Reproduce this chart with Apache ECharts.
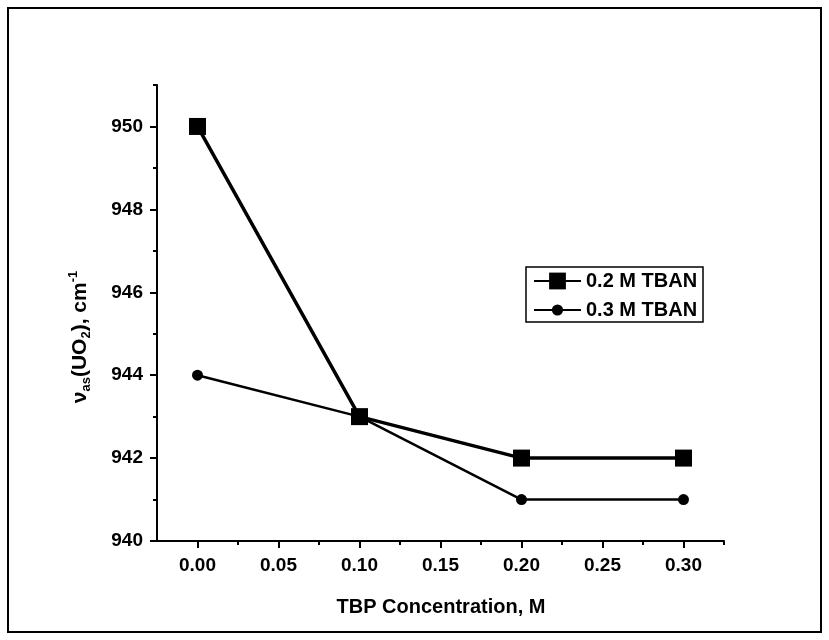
<!DOCTYPE html>
<html>
<head>
<meta charset="utf-8">
<script src="https://cdn.jsdelivr.net/npm/echarts@6/dist/echarts.min.js"></script>
<style>html,body{margin:0;padding:0;background:#fff;}#c{width:829px;height:640px;}</style>
</head>
<body>
<div id="c"></div>
<script>
// ---- data ----
var tbpConc = [0.00, 0.10, 0.20, 0.30];
var series02 = [950, 943, 942, 942];
var series03 = [944, 943, 941, 941];
var seriesNames = ['0.2 M TBAN', '0.3 M TBAN'];
var xTickValues = [0.00, 0.05, 0.10, 0.15, 0.20, 0.25, 0.30];
var xMinorValues = [0.025, 0.075, 0.125, 0.175, 0.225, 0.275, 0.325];
var yTickValues = [940, 942, 944, 946, 948, 950];
var yMinorValues = [941, 943, 945, 947, 949, 951];
var xTitle = 'TBP Concentration, M';

var FONT = 'Arial, "Liberation Sans", sans-serif';
var chart = echarts.init(document.getElementById('c'), null, {renderer: 'canvas'});

function pairs(xs, ys) { return xs.map(function (x, i) { return [x, ys[i]]; }); }

var grid = {left: 157, top: 85, right: 105, bottom: 99, containLabel: false};
var xMin = -0.025, xMax = 0.325, yMin = 940, yMax = 951;

var option = {
  animation: false,
  backgroundColor: '#fff',
  grid: grid,
  xAxis: [{
    type: 'value', min: xMin, max: xMax,
    axisLine: {show: true, onZero: false, lineStyle: {color: '#000', width: 2}},
    axisTick: {show: true, inside: false, length: 7, lineStyle: {color: '#000', width: 2}, customValues: xTickValues},
    axisLabel: {show: true, margin: 15, color: '#000', fontFamily: FONT, fontWeight: 'bold', fontSize: 19,
      customValues: xTickValues, formatter: function (v) { return v.toFixed(2); }},
    splitLine: {show: false}
  }, {
    type: 'value', min: xMin, max: xMax, position: 'bottom',
    axisLine: {show: false, onZero: false},
    axisTick: {show: true, inside: false, length: 4, lineStyle: {color: '#000', width: 2}, customValues: xMinorValues},
    axisLabel: {show: false},
    splitLine: {show: false}
  }],
  yAxis: [{
    type: 'value', min: yMin, max: yMax,
    axisLine: {show: true, onZero: false, lineStyle: {color: '#000', width: 2}},
    axisTick: {show: true, inside: false, length: 7, lineStyle: {color: '#000', width: 2}, customValues: yTickValues},
    axisLabel: {show: true, margin: 14, color: '#000', fontFamily: FONT, fontWeight: 'bold', fontSize: 19,
      customValues: yTickValues},
    splitLine: {show: false}
  }, {
    type: 'value', min: yMin, max: yMax, position: 'left',
    axisLine: {show: false, onZero: false},
    axisTick: {show: true, inside: false, length: 4, lineStyle: {color: '#000', width: 2}, customValues: yMinorValues},
    axisLabel: {show: false},
    splitLine: {show: false}
  }],
  legend: [{
    data: [seriesNames[0]], left: 533, top: 271, padding: 0, orient: 'vertical',
    itemWidth: 47, itemHeight: 21, itemGap: 0,
    textStyle: {color: '#000', fontFamily: FONT, fontWeight: 'bold', fontSize: 20}
  }, {
    data: [seriesNames[1]], left: 533, top: 300, padding: 0, orient: 'vertical',
    itemWidth: 47, itemHeight: 14, itemGap: 0,
    textStyle: {color: '#000', fontFamily: FONT, fontWeight: 'bold', fontSize: 20}
  }],
  series: [{
    name: seriesNames[1], type: 'line', xAxisIndex: 0, yAxisIndex: 0,
    data: pairs(tbpConc, series03),
    symbol: 'circle', symbolSize: 11,
    lineStyle: {color: '#000', width: 2.5},
    itemStyle: {color: '#000'},
    z: 2
  }, {
    name: seriesNames[0], type: 'line', xAxisIndex: 0, yAxisIndex: 0,
    data: pairs(tbpConc, series02),
    symbol: 'rect', symbolSize: 17,
    lineStyle: {color: '#000', width: 3.5},
    itemStyle: {color: '#000'},
    z: 3
  }],
  graphic: [{
    type: 'rect', silent: true,
    shape: {x: 8, y: 8, width: 813, height: 624},
    style: {fill: null, stroke: '#000', lineWidth: 2}
  }, {
    type: 'rect', silent: true,
    shape: {x: 526, y: 267, width: 177, height: 55},
    style: {fill: null, stroke: '#000', lineWidth: 1.5}
  }, {
    type: 'text', silent: true, x: 441, y: 607,
    style: {text: xTitle, fill: '#000', font: 'bold 20px ' + FONT, align: 'center', verticalAlign: 'middle'}
  }, {
    type: 'text', silent: true, x: 80, y: 337, rotation: Math.PI / 2,
    style: {
      text: '{m|ν}{sub|as}{m|(UO}{sub|2}{m|), cm}{sup|-1}',
      align: 'center', verticalAlign: 'middle', fill: '#000',
      rich: {
        m: {font: 'bold 21px ' + FONT, fill: '#000', lineHeight: 26, verticalAlign: 'middle'},
        sub: {font: 'bold 13px ' + FONT, fill: '#000', lineHeight: 26, verticalAlign: 'bottom'},
        sup: {font: 'bold 13px ' + FONT, fill: '#000', lineHeight: 26, verticalAlign: 'top'}
      }
    }
  }]
};
chart.setOption(option);
</script>
</body>
</html>
